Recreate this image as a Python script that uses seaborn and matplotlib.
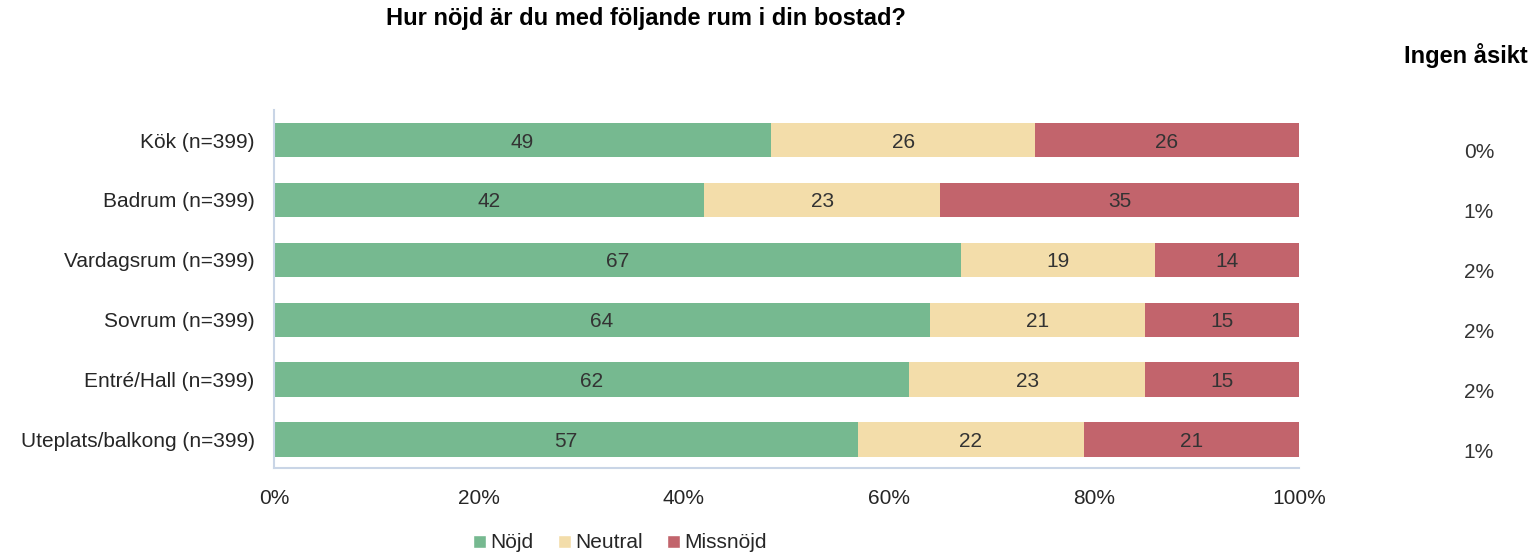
import numpy as np
import pandas as pd
import seaborn as sns
import matplotlib.pyplot as plt
from matplotlib.patches import Patch

# Data
rooms = ["Kök (n=399)", "Badrum (n=399)", "Vardagsrum (n=399)",
         "Sovrum (n=399)", "Entré/Hall (n=399)", "Uteplats/balkong (n=399)"]
nojd = [49, 42, 67, 64, 62, 57]
neutral = [26, 23, 19, 21, 23, 22]
missnojd = [26, 35, 14, 15, 15, 21]
ingen_asikt = ["0%", "1%", "2%", "2%", "2%", "1%"]
series = ["Nöjd", "Neutral", "Missnöjd"]
colors = ["#76B990", "#F3DDAA", "#C2646C"]

sns.set_style("white")
plt.rcParams["font.family"] = ["Liberation Sans", "DejaVu Sans"]

df = pd.DataFrame({"room": rooms, "Nöjd": nojd, "Neutral": neutral, "Missnöjd": missnojd})
total = df[series].sum(axis=1)
shares = df[series].div(total, axis=0) * 100
cum = shares.cumsum(axis=1)

fig = plt.figure(figsize=(15.4, 5.54), dpi=100)
ax = fig.add_axes([0.1779, 0.1552, 0.6656, 0.6462])

# stacked bars: draw the longest cumulative first, then overlay
for name, col in reversed(list(zip(series, colors))):
    sns.barplot(x=cum[name], y=df["room"], color=col, orient="h",
                width=0.58, ax=ax, saturation=1, linewidth=0)

# segment labels
for i in range(len(rooms)):
    start = 0
    for name in series:
        w = shares.loc[i, name]
        ax.text(start + w / 2, i, str(df.loc[i, name]), ha="center",
                va="center_baseline", fontsize=15, color="#333333")
        start += w

ax.set_xlim(0, 100)
ax.set_ylim(5.47, -0.5)
ax.set_xticks([0, 20, 40, 60, 80, 100])
ax.set_xticklabels([f"{v}%" for v in [0, 20, 40, 60, 80, 100]])
ax.tick_params(axis="both", length=0, labelsize=15, colors="#262626")
ax.tick_params(axis="x", pad=15)
ax.tick_params(axis="y", pad=14)
ax.set_xlabel("")
ax.set_ylabel("")
for s in ["top", "right"]:
    ax.spines[s].set_visible(False)
for s in ["left", "bottom"]:
    ax.spines[s].set_color("#C9D5E6")
    ax.spines[s].set_linewidth(1.5)

# "Ingen åsikt" column
for i, v in enumerate(ingen_asikt):
    ax.text(1.1755, i + 0.17, v, transform=ax.get_yaxis_transform(),
            ha="center", va="center_baseline", fontsize=15, color="#333333")
fig.text(1466 / 1540, 1 - 56 / 554, "Ingen åsikt", ha="center", va="center",
         fontsize=17, fontweight="bold", color="black")

fig.text(646 / 1540, 1 - 19 / 554, "Hur nöjd är du med följande rum i din bostad?",
         ha="center", va="center", fontsize=17, fontweight="bold", color="black")

handles = [Patch(facecolor=c, label=n) for n, c in zip(series, colors)]
fig.legend(handles=handles, loc="center", bbox_to_anchor=(620 / 1540, 1 - 543 / 554),
           ncol=3, frameon=False, fontsize=15, handlelength=0.6, handleheight=0.6,
           handletextpad=0.2, columnspacing=1.2)

fig.savefig("out.png", dpi=100)
